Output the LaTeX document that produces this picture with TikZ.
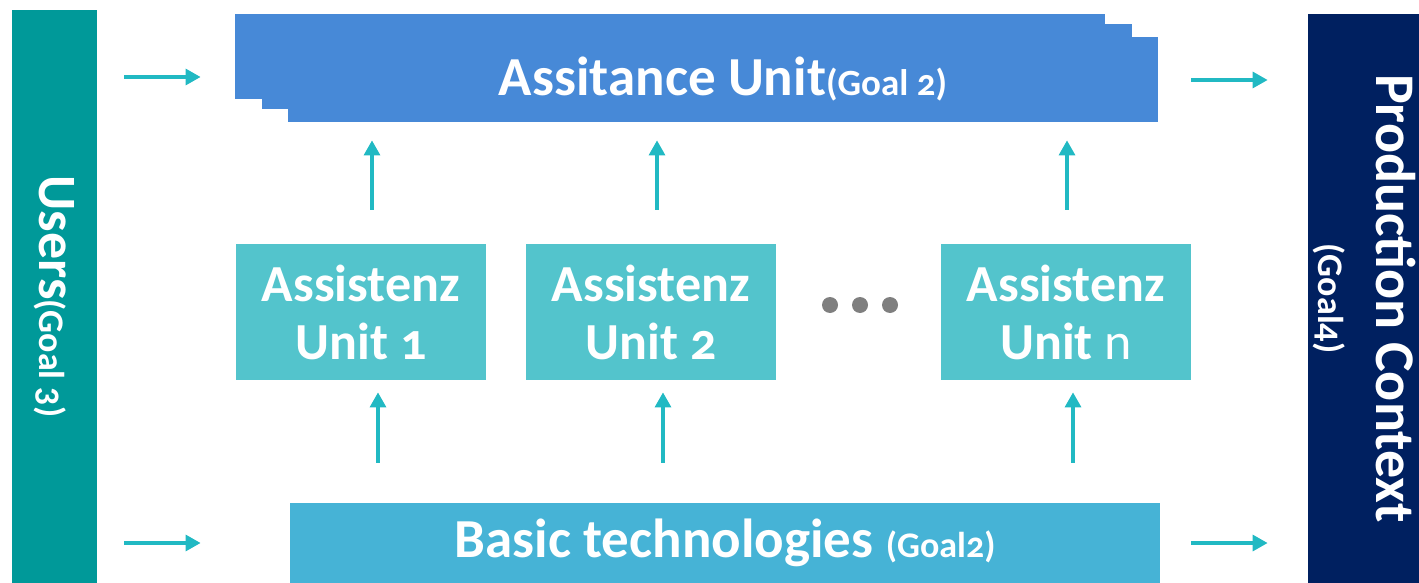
\documentclass[tikz,border=0pt]{standalone}
\usepackage{fontspec}
\setmainfont{Carlito}[Numbers=OldStyle]
\usetikzlibrary{arrows.meta}

\definecolor{usersteal}{HTML}{009999}
\definecolor{ctxnavy}{HTML}{002060}
\definecolor{unitblue}{HTML}{4789D7}
\definecolor{assistteal}{HTML}{53C4CC}
\definecolor{basicblue}{HTML}{46B3D6}
\definecolor{arrowteal}{HTML}{21B9C3}
\definecolor{dotgray}{HTML}{7F7F7F}

\begin{document}
\begin{tikzpicture}[
  x=0.5pt, y=-0.5pt,
  box/.style={rectangle, inner sep=0pt, text=white, font=\bfseries\fontsize{26}{29}\selectfont, align=center},
  stackbox/.style={box, fill=unitblue, minimum width=435pt, minimum height=42.5pt},
  unitbox/.style={box, fill=assistteal, minimum width=125pt, minimum height=68pt},
  arr/.style={arrowteal, line width=1.6pt, -{Triangle[length=7.5pt, width=8pt]}},
]
\useasboundingbox (0,0) rectangle (1419,583);

\node[box, fill=usersteal, minimum width=42.5pt, minimum height=286.5pt] (users) at (54.5,296.5) {};
\node[rotate=-90, text=white, font=\bfseries\fontsize{27}{30}\selectfont] at (users.center)
  {Users{\fontsize{18}{20}\selectfont(Goal 3)}};

\node[box, fill=ctxnavy, minimum width=55.5pt, minimum height=284.5pt] (ctx) at (1363.5,298.5) {};
\node[rotate=-90, text=white, align=center, font=\bfseries\fontsize{28}{30}\selectfont] at ([xshift=0.5pt]ctx.center)
  {Production Context\\[-1pt]{\fontsize{18}{20}\selectfont(Goal4)}};

% Assistance unit, drei Lagen
\node[stackbox] (back) at (670,56.5) {};
\node[stackbox] (mid) at (697,66.5) {};
\node[stackbox, font=\bfseries\fontsize{27.5}{30}\selectfont] (front) at (723,79.5)
  {Assitance Unit{\fontsize{18.5}{20}\selectfont(Goal 2)}};

\node[unitbox] (u1) at (361,312) {Assistenz\\Unit 1};
\node[unitbox] (u2) at (651,312) {Assistenz\\Unit 2};
\node[unitbox] (un) at (1066,312) {Assistenz\\Unit \textmd{n}};
\foreach \x in {830,860,890}
  \fill[dotgray] (\x,305) circle (4pt);

\node[box, fill=basicblue, minimum width=435pt, minimum height=40pt, font=\bfseries\fontsize{27.5}{30}\selectfont] (basic) at (725,543)
  {Basic technologies {\fontsize{18}{20}\selectfont(Goal2)}};

\draw[arr, shorten <=13.5pt, shorten >=17pt] (users.east |- 0,77) -- (back.west |- 0,77);
\draw[arr, shorten <=16.5pt, shorten >=20pt] (front.east |- 0,80) -- (ctx.west |- 0,80);
\draw[arr, shorten <=13.5pt, shorten >=44.5pt] (users.east |- basic.west) -- (basic.west);
\draw[arr, shorten <=15.5pt, shorten >=20pt] (basic.east) -- (ctx.west |- basic.east);

\draw[arr, shorten <=17pt, shorten >=9pt] ([xshift=5.5pt]u1.north) -- ([xshift=5.5pt]u1.north |- front.south);
\draw[arr, shorten <=17pt, shorten >=9pt] ([xshift=3pt]u2.north) -- ([xshift=3pt]u2.north |- front.south);
\draw[arr, shorten <=17pt, shorten >=9pt] ([xshift=0.5pt]un.north) -- ([xshift=0.5pt]un.north |- front.south);

\draw[arr, shorten <=20pt, shorten >=6pt] ([xshift=8.5pt]u1.south |- basic.north) -- ([xshift=8.5pt]u1.south);
\draw[arr, shorten <=20pt, shorten >=6pt] ([xshift=6pt]u2.south |- basic.north) -- ([xshift=6pt]u2.south);
\draw[arr, shorten <=20pt, shorten >=6pt] ([xshift=3.5pt]un.south |- basic.north) -- ([xshift=3.5pt]un.south);
\end{tikzpicture}
\end{document}
